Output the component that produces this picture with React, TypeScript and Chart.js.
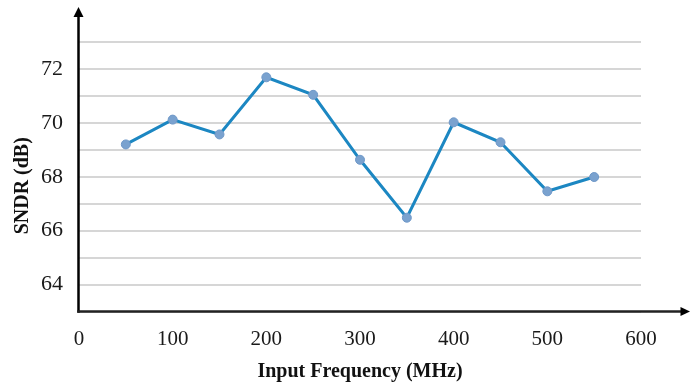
import React, { useEffect, useRef } from "react";
import { Chart, registerables } from "chart.js";

Chart.register(...registerables);

const frequencies = [50, 100, 150, 200, 250, 300, 350, 400, 450, 500, 550];
const sndr = [69.2, 70.12, 69.57, 71.69, 71.04, 68.63, 66.48, 70.02, 69.28, 67.46, 67.99];
const yLabelValues = [64, 66, 68, 70, 72];
const xTitle = "Input Frequency (MHz)";
const yTitle = "SNDR (dB)";

const FONT = "'Liberation Serif', 'Times New Roman', serif";

const axisArrows = {
  id: "axisArrows",
  afterDatasetsDraw(chart: any) {
    const { ctx, chartArea } = chart;
    const ax = chartArea.left - 0.5;
    const ay = chartArea.bottom;
    const topY = 16;
    const rightX = 682;
    ctx.save();
    ctx.strokeStyle = "#000";
    ctx.fillStyle = "#000";
    ctx.lineWidth = 2.5;
    ctx.beginPath();
    ctx.moveTo(ax, ay + 1.2);
    ctx.lineTo(ax, topY);
    ctx.stroke();
    ctx.strokeStyle = "#222";
    ctx.beginPath();
    ctx.moveTo(ax - 1.2, ay);
    ctx.lineTo(rightX, ay);
    ctx.stroke();
    // up arrowhead
    ctx.beginPath();
    ctx.moveTo(ax, 7);
    ctx.lineTo(ax - 5, 17);
    ctx.lineTo(ax + 5, 17);
    ctx.closePath();
    ctx.fill();
    // right arrowhead
    ctx.beginPath();
    ctx.moveTo(690, ay);
    ctx.lineTo(680.5, ay - 4.5);
    ctx.lineTo(680.5, ay + 4.5);
    ctx.closePath();
    ctx.fill();
    // y-axis title (rotated), slightly below chart-area centre as in the reference
    ctx.fillStyle = "#111";
    ctx.font = `bold 20px ${FONT}`;
    ctx.textAlign = "center";
    ctx.textBaseline = "middle";
    ctx.translate(23, (chartArea.top + chartArea.bottom) / 2 + 9);
    ctx.rotate(-Math.PI / 2);
    ctx.fillText(yTitle, 0, 0);
    ctx.restore();
  },
};

export default function App() {
  const canvasRef = useRef<HTMLCanvasElement | null>(null);

  useEffect(() => {
    if (!canvasRef.current) return;
    const chart = new Chart(canvasRef.current, {
      type: "line",
      data: {
        datasets: [
          {
            data: frequencies.map((f, i) => ({ x: f, y: sndr[i] })),
            borderColor: "#1c87c2",
            borderWidth: 3,
            pointRadius: 4.5,
            pointBackgroundColor: "#7aa2cf",
            pointBorderColor: "#6f98c8",
            pointBorderWidth: 1,
            tension: 0,
          },
        ],
      },
      options: {
        animation: false,
        responsive: true,
        maintainAspectRatio: false,
        layout: { padding: { top: 42, right: 56, left: 0, bottom: 0 } },
        plugins: { legend: { display: false }, tooltip: { enabled: false } },
        scales: {
          x: {
            type: "linear",
            min: 0,
            max: 600,
            ticks: {
              stepSize: 100,
              autoSkip: false,
              color: "#1a1a1a",
              padding: 15,
              maxRotation: 0,
              font: { family: FONT, size: 21 },
            },
            grid: { display: false, drawTicks: false },
            border: { display: false },
            title: {
              display: true,
              text: xTitle,
              color: "#111",
              font: { family: FONT, size: 20, weight: "bold" },
              padding: { top: 0, bottom: 5 },
            },
            afterFit(scale: any) {
              scale.height = 77.5;
            },
          },
          y: {
            min: 63,
            max: 73,
            ticks: {
              stepSize: 1,
              autoSkip: false,
              color: "#1a1a1a",
              padding: 16,
              font: { family: FONT, size: 22 },
              callback: (v: any) => (yLabelValues.includes(Number(v)) ? String(v) : ""),
            },
            grid: { color: "#d6d6d6", lineWidth: 2, drawTicks: false },
            border: { display: false },
            title: { display: false },
            afterFit(scale: any) {
              scale.width = 79;
            },
          },
        },
      },
      plugins: [axisArrows],
    });
    return () => chart.destroy();
  }, []);

  return (
    <div style={{ position: "absolute", left: 0, top: 0, width: 697, height: 389, background: "#fff" }}>
      <canvas ref={canvasRef} />
    </div>
  );
}
